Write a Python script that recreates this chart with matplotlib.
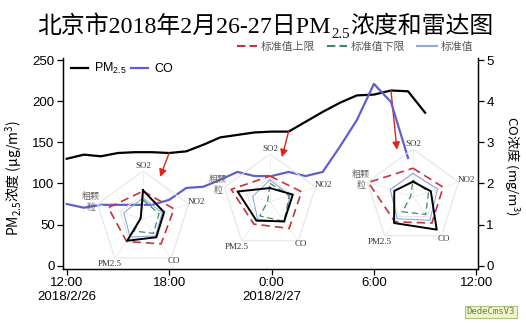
import numpy as np
import matplotlib.pyplot as plt
from matplotlib.lines import Line2D

plt.rcParams['font.family'] = ['Liberation Sans', 'Noto Sans CJK SC']
plt.rcParams['mathtext.default'] = 'regular'
plt.rcParams['axes.unicode_minus'] = False

# hourly readings, hours counted from 2018/2/26 0:00
pm_hours = [12, 13, 14, 15, 16, 17, 18, 19, 20, 21, 22, 23, 24, 25, 26, 27, 28, 29, 30, 31, 32, 33]
pm25 = [130, 135, 133, 137, 138, 138, 137, 139, 147, 156, 159, 162, 163, 163, 175, 187, 198, 207, 208, 213, 212, 186]
co_hours = [12, 13, 14, 15, 16, 17, 18, 19, 20, 21, 22, 23, 24, 25, 26, 27, 28, 29, 30, 31, 32]
co = [1.50, 1.41, 1.48, 1.48, 1.48, 1.48, 1.60, 1.89, 1.92, 2.09, 2.28, 2.18, 2.18, 2.28, 2.18, 2.28,
      2.89, 3.54, 4.42, 3.98, 2.62]

x_ticks = [12, 18, 24, 30, 36]
x_ticklabels = ['12:00\n2018/2/26', '18:00', '0:00\n2018/2/27', '6:00', '12:00']

# radar snapshots (normalised), axis order SO2, NO2, CO, PM2.5, 粗颗粒
radar_labels = ['SO2', 'NO2', 'CO', 'PM2.5', '粗颗\n粒']
radar_hours = [18, 25, 31]
arrow_heads = [(17.47, 108), (24.61, 132), (31.35, 141)]
std_upper = [[0.58, 0.68, 0.64, 0.58, 0.76],
             [0.54, 0.69, 0.68, 0.57, 0.85],
             [0.60, 0.66, 0.67, 0.64, 0.98]]
std_lower = [[0.40, 0.35, 0.37, 0.31, 0.06],
             [0.39, 0.42, 0.50, 0.36, 0.05],
             [0.35, 0.34, 0.45, 0.38, 0.05]]
std_mid = [[0.44, 0.42, 0.44, 0.46, 0.42],
           [0.46, 0.44, 0.52, 0.44, 0.38],
           [0.49, 0.54, 0.60, 0.56, 0.50]]
measured = [[0.60, 0.46, 0.47, 0.56, 0.05],
            [0.29, 0.50, 0.50, 0.48, 0.71],
            [0.32, 0.39, 0.84, 0.67, 0.41]]

PM_COLOR = 'black'
CO_COLOR = '#5f5fd0'
RED = '#c8323a'
GREEN = '#3c8a62'
BLUE = '#8ea9e2'
SERIF_CJK = ['Liberation Serif', 'Noto Sans CJK SC']

fig = plt.figure(figsize=(5.26, 3.23), dpi=100)
ax = fig.add_axes([63 / 526, 54 / 323, 415 / 526, 210.6 / 323])
ax2 = ax.twinx()

ax.plot(pm_hours, pm25, color=PM_COLOR, lw=1.6, label='PM$_{2.5}$')
ax2.plot(co_hours, co, color=CO_COLOR, lw=1.6, label='CO')

ax.set_xlim(11.78, 36.1)
ax.set_ylim(-4, 252)
ax2.set_ylim(-0.08, 5.04)
ax.set_xticks(x_ticks)
ax.set_xticklabels(x_ticklabels)
ax.set_yticks([0, 50, 100, 150, 200, 250])
ax2.set_yticks([0, 1, 2, 3, 4, 5])

for a in (ax, ax2):
    a.spines['top'].set_visible(False)
    for s in a.spines.values():
        s.set_linewidth(0.9)
    a.tick_params(direction='out', length=4, width=0.9, labelsize=9.5, pad=2)

# mathtext takes one font only, so these labels use the CJK family throughout
ax.set_ylabel('PM$_{2.5}$浓度 (μg/m$^3$)', fontsize=10, family='Noto Sans CJK SC')
ax.yaxis.set_label_coords(-0.094, 0.43)
ax2.set_ylabel('CO浓度 (mg/m$^3$)', fontsize=9.5, rotation=270, va='center',
               family='Noto Sans CJK SC')
ax2.yaxis.set_label_coords(1.082, 0.49)

h1, l1 = ax.get_legend_handles_labels()
h2, l2 = ax2.get_legend_handles_labels()
ax.legend(h1 + h2, l1 + l2, loc='upper left', bbox_to_anchor=(0.014, 1.0), ncol=2,
          frameon=False, fontsize=9, handlelength=1.3, handletextpad=0.5,
          columnspacing=0.4, borderaxespad=0, borderpad=0.2)

# red arrows from the PM2.5 curve to each radar
for hr, head in zip(radar_hours, arrow_heads):
    tail = (hr, pm25[pm_hours.index(hr)])
    ax.annotate('', xy=head, xytext=tail,
                arrowprops=dict(arrowstyle='-|>', color='#e3211c', lw=1.0,
                                mutation_scale=11, shrinkA=0, shrinkB=0))

# radar insets
theta = np.linspace(0, 2 * np.pi, 5, endpoint=False)
theta_c = np.append(theta, theta[0])
label_r = [1.10, 1.16, 1.09, 1.17, 1.14]
centers = [(143, 219), (270, 202), (413, 197)]
R = 48


def close(v):
    return list(v) + [v[0]]


for i, (cx, cy) in enumerate(centers):
    rax = fig.add_axes([(cx - R) / 526, 1 - (cy + R) / 323, 2 * R / 526, 2 * R / 323],
                       projection='polar')
    rax.set_theta_offset(np.pi / 2)
    rax.set_theta_direction(-1)
    rax.set_ylim(0, 1)
    rax.axis('off')
    for ring in (0.5, 1.0):
        rax.plot(theta_c, [ring] * 6, color='#e6e6e6', lw=0.8, zorder=1)
    for t in theta:
        rax.plot([t, t], [0, 1], color='#ececec', lw=0.6, zorder=1)

    rax.plot(theta_c, close(std_upper[i]), color=RED, lw=1.2, ls=(0, (5, 3)), zorder=3)
    rax.plot(theta_c, close(std_mid[i]), color=BLUE, lw=0.8, zorder=3)
    rax.plot(theta_c, close(std_lower[i]), color=GREEN, lw=0.9, ls=(0, (5, 3)), zorder=3)
    rax.plot(theta_c, close(measured[i]), color='black', lw=1.4, zorder=4)
    for t, lab, lr in zip(theta, radar_labels, label_r):
        rax.text(t, lr, lab, ha='center', va='center', fontsize=6.5, family=SERIF_CJK,
                 color='#666666' if '粒' in lab else '#333333', linespacing=1.3)

# title built from pieces so the CJK glyphs and the subscript both render
title_size = 17.2
t1 = fig.text(37 / 526, 1 - 33 / 323, '北京市2018年2月26-27日PM', ha='left', va='baseline',
              fontsize=title_size, family=SERIF_CJK)
t2 = fig.add_artist(plt.Annotation('2.5', xy=(1, 0), xycoords=t1, xytext=(0.3, -2.5),
                                   textcoords='offset points', ha='left', va='bottom',
                                   fontsize=title_size * 0.62, family=SERIF_CJK))
t3 = fig.add_artist(plt.Annotation('浓度和雷达图', xy=(1, 0), xycoords=(t2, t1), xytext=(0.5, 0),
                                   textcoords='offset points', ha='left', va='bottom',
                                   fontsize=title_size, family=SERIF_CJK))

std_handles = [Line2D([], [], color=RED, lw=1.5, ls=(0, (4, 2))),
               Line2D([], [], color=GREEN, lw=1.5, ls=(0, (4, 2))),
               Line2D([], [], color=BLUE, lw=1.5)]
fig.legend(std_handles, ['标准值上限', '标准值下限', '标准值'], loc='center left',
           bbox_to_anchor=(237 / 526, 1 - 47 / 323), ncol=3, frameon=False,
           fontsize=7.8, handlelength=1.8, handletextpad=0.4, columnspacing=1.1,
           borderpad=0, borderaxespad=0, labelcolor='#555555')

fig.text(491 / 526, 1 - 312 / 323, 'DedeCmsV3', ha='center', va='center', fontsize=6.5,
         color='#6f8050', family='DejaVu Sans Mono',
         bbox=dict(boxstyle='square,pad=0.15', fc='#eef4c8', ec='#aac27a', lw=0.8))

fig.savefig('out.png', dpi=100)
